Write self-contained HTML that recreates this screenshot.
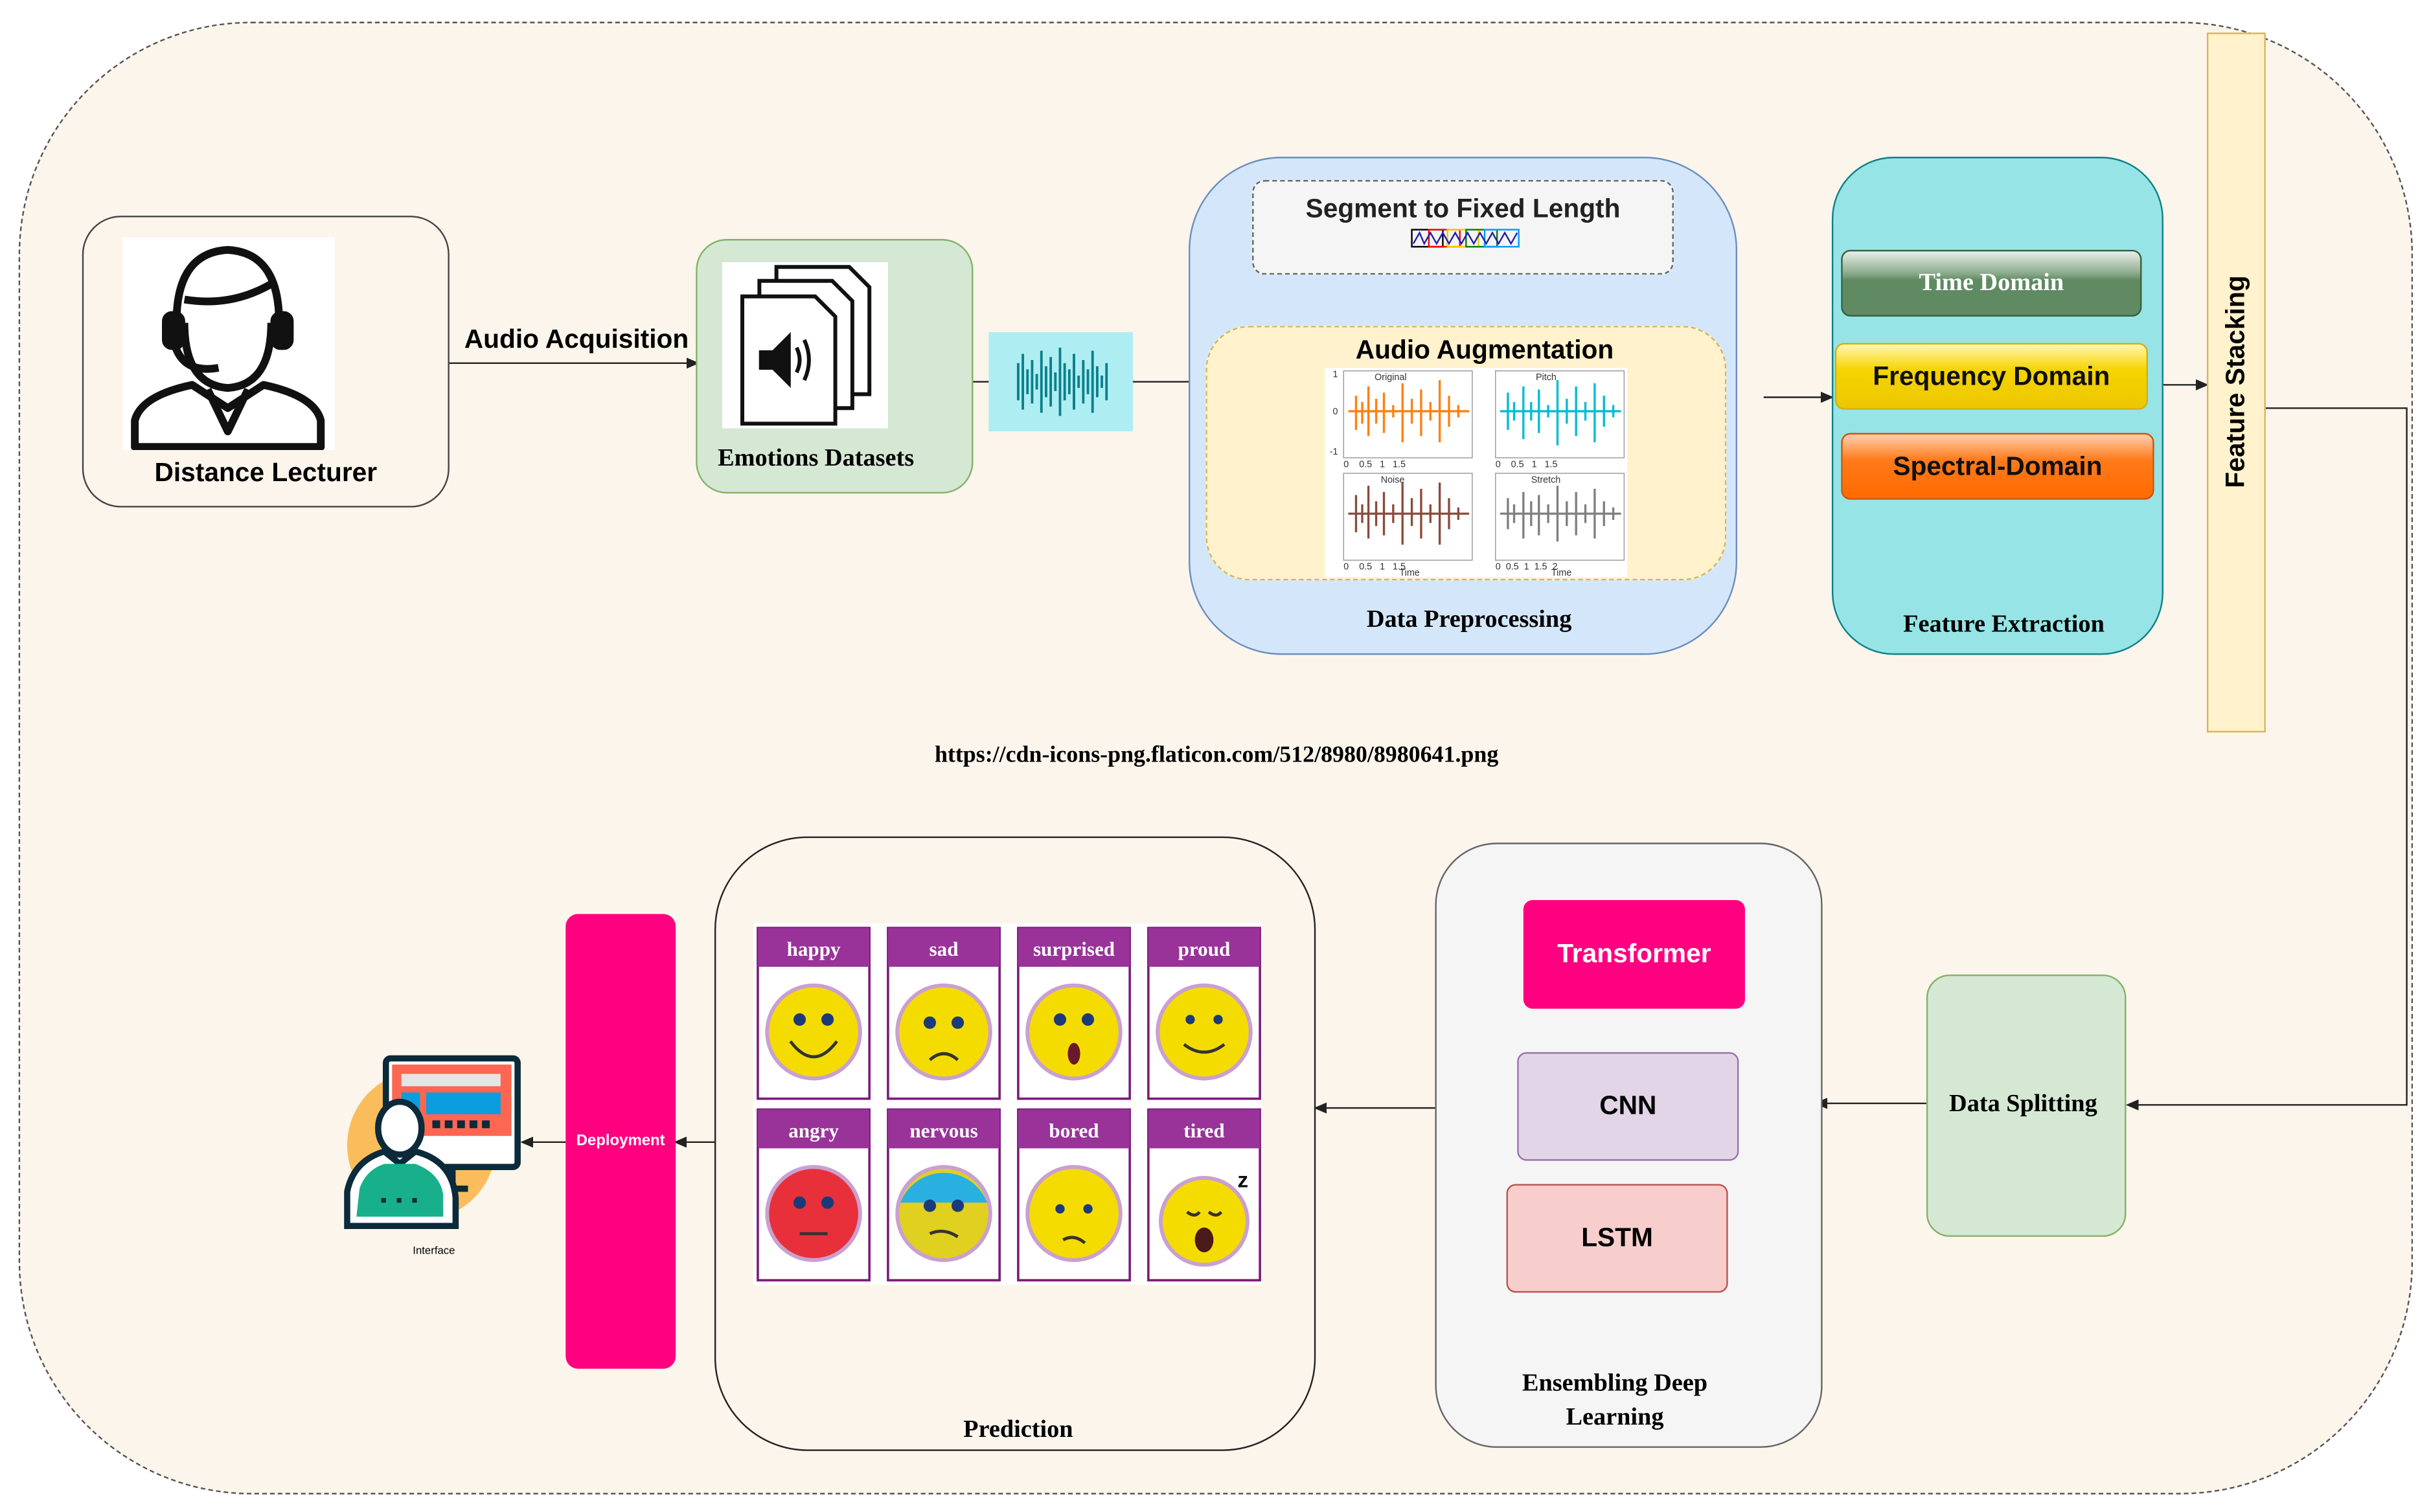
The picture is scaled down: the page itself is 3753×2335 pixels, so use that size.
<!DOCTYPE html>
<html><head><meta charset="utf-8">
<style>
html,body{margin:0;padding:0;width:3753px;height:2335px;overflow:hidden;background:#fff}
#w{position:absolute;left:0;top:0;width:1560px;height:970px;transform:scale(2.3925,2.3965);transform-origin:0 0;font-family:"Liberation Sans",sans-serif}
.a{position:absolute;box-sizing:border-box}
.t{position:absolute;white-space:nowrap;text-align:center}
.serif{font-family:"Liberation Serif",serif;font-weight:bold}
.btn{position:absolute;box-sizing:border-box;border-radius:6px;display:flex;align-items:center;justify-content:center;font-weight:bold}
</style></head><body><div id="w">
<div class="a" style="left:12px;top:14px;width:1545px;height:949px;border:1px dashed #555;border-radius:150px;background:#fcf5ec"></div>

<div class="a" style="left:53px;top:139px;width:237px;height:188px;border:1px solid #444;border-radius:25px"></div>
<div class="a" style="left:79px;top:153px;width:137px;height:137px;background:#fff"></div>
<svg class="a" style="left:79px;top:153px" width="137" height="137" viewBox="0 0 137 137" fill="none" stroke="#111" stroke-width="5" stroke-linejoin="round">
<path d="M35 60 Q33 10 68 8 Q103 10 101 60"/>
<path d="M40 55 Q40 95 68 97 Q96 95 96 55"/>
<path d="M40 40 Q70 45 96 30"/>
<rect x="28" y="50" width="10" height="20" rx="4" fill="#111"/><rect x="98" y="50" width="10" height="20" rx="4" fill="#111"/>
<path d="M34 70 Q40 88 62 84"/>
<path d="M8 135 L8 118 Q12 102 45 95 L68 110 L91 95 Q124 102 128 118 L128 135 Z"/>
<path d="M55 98 L68 125 L81 98"/>
</svg>
<div class="t" style="left:53px;top:295px;width:237px;font-size:17px;font-weight:bold">Distance Lecturer</div>

<svg class="a" style="left:0;top:0" width="1560" height="970" fill="none" stroke="#222" stroke-width="1">
<defs><marker id="m" markerWidth="8" markerHeight="8" refX="7" refY="4" orient="auto"><path d="M0,1 L7,4 L0,7 Z" fill="#222"/></marker></defs>
<line x1="290" y1="234" x2="450" y2="234" marker-end="url(#m)"/>
<line x1="628" y1="246" x2="638" y2="246"/>
<line x1="731" y1="246" x2="778" y2="246"/>
<line x1="958" y1="177" x2="958" y2="208" marker-end="url(#m)"/>
<line x1="1138" y1="256" x2="1182" y2="256" marker-end="url(#m)"/>
<line x1="1396" y1="248" x2="1424" y2="248" marker-end="url(#m)"/>
<polyline points="1462,263 1553,263 1553,712 1373,712" marker-end="url(#m)"/>
<line x1="1243" y1="711" x2="1172" y2="711" marker-end="url(#m)"/>
<line x1="1172" y1="711" x2="1125" y2="711"/>
<polyline points="1126,597 1154,597 1154,825 1122,825"/>
<line x1="926" y1="714" x2="849" y2="714" marker-end="url(#m)"/>
<line x1="461" y1="736" x2="436" y2="736" marker-end="url(#m)"/>
<line x1="365" y1="736" x2="337" y2="736" marker-end="url(#m)"/>
</svg>
<div class="t" style="left:296px;top:209px;width:152px;font-size:17px;font-weight:bold">Audio Acquisition</div>

<div class="a" style="left:449px;top:154px;width:179px;height:164px;border:1px solid #82b366;border-radius:20px;background:#d5e8d4"></div>
<div class="a" style="left:466px;top:169px;width:107px;height:107px;background:#fff"></div>
<svg class="a" style="left:466px;top:169px" width="107" height="107" viewBox="0 0 107 107" fill="#fff" stroke="#111" stroke-width="2.5">
<path d="M35 3 L82 3 L95 16 L95 85 L35 85 Z"/>
<path d="M24 12 L71 12 L84 25 L84 94 L24 94 Z"/>
<path d="M13 22 L60 22 L73 35 L73 104 L13 104 Z"/>
<path d="M25 58 L33 58 L43 48 L43 78 L33 68 L25 68 Z" fill="#111"/>
<path d="M48 55 Q52 63 48 71 M53 50 Q59 63 53 76" fill="none"/>
</svg>
<div class="t serif" style="left:449px;top:287px;width:155px;font-size:16px">Emotions Datasets</div>

<div class="a" style="left:638px;top:214px;width:93px;height:64px;background:#aeeef2"></div>
<svg class="a" style="left:638px;top:214px" width="93" height="64" stroke="#0b7f8c" stroke-width="1.6">
<path d="M16 32v0 M19 20v24 M22 14v36 M25 24v16 M28 18v28 M31 27v10 M34 12v40 M37 22v20 M40 16v32 M43 26v12 M46 10v44 M49 20v24 M52 24v16 M55 14v36 M58 28v8 M61 18v28 M64 24v16 M67 12v40 M70 22v20 M73 28v8 M76 20v24"/>
</svg>

<div class="a" style="left:767px;top:101px;width:354px;height:321px;border:1px solid #6c8ebf;border-radius:60px;background:#d4e7fa"></div>
<div class="a" style="left:808px;top:116px;width:272px;height:61px;border:1px dashed #666;border-radius:8px;background:#f5f5f5"></div>
<div class="t" style="left:808px;top:125px;width:272px;font-size:17px;font-weight:bold;color:#222">Segment to Fixed Length</div>
<svg class="a" style="left:910px;top:147px" width="72" height="14" fill="none" stroke-width="1">
<rect x="1" y="1" width="20" height="11" stroke="#000"/><rect x="12" y="1" width="20" height="11" stroke="red"/><rect x="24" y="1" width="20" height="11" stroke="#ec0"/><rect x="36" y="1" width="20" height="11" stroke="green"/><rect x="48" y="1" width="22" height="11" stroke="#09f"/>
<path d="M2 10 L6 3 L9 10 L13 3 L17 10 L21 3 L25 10 L29 3 L33 10 L37 3 L41 10 L45 3 L49 10 L53 3 L57 10 L61 3 L65 10 L69 3" stroke="#22a"/>
</svg>
<div class="a" style="left:778px;top:210px;width:336px;height:164px;border:1px dashed #d6b656;border-radius:28px;background:#fff2cc"></div>
<div class="t" style="left:778px;top:216px;width:360px;font-size:17px;font-weight:bold">Audio Augmentation</div>
<div class="a" style="left:855px;top:237px;width:195px;height:135px;background:#fff"></div>
<svg class="a" style="left:855px;top:237px" width="195" height="135" font-family="Liberation Sans" font-size="6">
<g fill="none" stroke="#999" stroke-width="0.6"><rect x="12" y="2" width="83" height="56"/><rect x="110" y="2" width="83" height="56"/><rect x="12" y="68" width="83" height="56"/><rect x="110" y="68" width="83" height="56"/></g>
<g stroke-width="1.4">
<path stroke="#ff7f0e" d="M15 28h78 M20 18v22 M24 22v14 M28 12v32 M33 20v16 M38 16v26 M44 24v8 M50 10v38 M56 20v16 M62 14v30 M68 22v12 M74 8v40 M80 18v20 M86 24v8"/>
<path stroke="#00bcd0" d="M113 28h78 M118 16v24 M122 22v12 M128 12v34 M133 22v12 M138 14v28 M144 24v8 M150 8v42 M156 20v16 M162 12v32 M168 22v12 M174 10v38 M180 18v20 M186 24v8"/>
<path stroke="#8c4a3a" d="M15 94h78 M20 82v24 M24 88v12 M28 76v34 M33 86v16 M38 80v28 M44 88v12 M50 74v40 M56 84v18 M62 78v32 M68 88v12 M74 74v40 M80 84v20 M86 90v8"/>
<path stroke="#7f7f7f" d="M113 94h78 M118 84v20 M122 88v12 M128 80v30 M133 86v16 M138 82v26 M144 88v12 M150 76v36 M156 86v16 M162 80v28 M168 88v12 M174 78v32 M180 86v16 M186 90v8"/>
</g>
<g fill="#333"><text x="32" y="8">Original</text><text x="136" y="8">Pitch</text><text x="36" y="74">Noise</text><text x="133" y="74">Stretch</text><text x="48" y="134">Time</text><text x="146" y="134">Time</text>
<text x="5" y="6">1</text><text x="5" y="30">0</text><text x="3" y="56">-1</text><text x="12" y="64">0 &#160;&#160;&#160;0.5 &#160;&#160;1 &#160;&#160;1.5</text><text x="110" y="64">0 &#160;&#160;&#160;0.5 &#160;&#160;1 &#160;&#160;1.5</text><text x="12" y="130">0 &#160;&#160;&#160;0.5 &#160;&#160;1 &#160;&#160;1.5</text><text x="110" y="130">0 &#160;0.5 &#160;1 &#160;1.5 &#160;2</text></g>
</svg>
<div class="t serif" style="left:767px;top:391px;width:362px;font-size:16px">Data Preprocessing</div>

<div class="a" style="left:1182px;top:101px;width:214px;height:321px;border:1px solid #0e8088;border-radius:40px;background:#96e4e6"></div>
<div class="btn serif" style="left:1188px;top:161px;width:194px;height:43px;border:1px solid #3a5e3c;background:linear-gradient(#e8efe8 0%,#8aa98b 35%,#5f8a62 45%,#5f8a62 100%);color:#fff;font-size:16px">Time Domain</div>
<div class="btn" style="left:1184px;top:221px;width:202px;height:43px;border:1px solid #d6b000;background:linear-gradient(#fff6b0 0%,#f5d400 40%,#ecc700 100%);color:#111;font-size:17px">Frequency Domain</div>
<div class="btn" style="left:1188px;top:279px;width:202px;height:43px;border:1px solid #d45000;background:linear-gradient(#ffd0b0 0%,#ff7a1a 40%,#ff6a00 100%);color:#111;font-size:17px">Spectral-Domain</div>
<div class="t serif" style="left:1182px;top:394px;width:222px;font-size:16px">Feature Extraction</div>

<div class="a" style="left:1424px;top:21px;width:38px;height:451px;border:1px solid #d6b656;background:#fff2cc"></div>
<div class="t" style="left:1343px;top:236px;width:200px;font-size:17px;font-weight:bold;transform:rotate(-90deg)">Feature Stacking</div>

<div class="t serif" style="left:485px;top:479px;width:600px;font-size:15px">https://cdn-icons-png.flaticon.com/512/8980/8980641.png</div>

<div class="a" style="left:1243px;top:628px;width:129px;height:169px;border:1px solid #82b366;border-radius:15px;background:#d5e8d4"></div>
<div class="t serif" style="left:1243px;top:703px;width:125px;font-size:16px">Data Splitting</div>

<div class="a" style="left:926px;top:543px;width:250px;height:390px;border:1px solid #666;border-radius:40px;background:#f5f5f5"></div>
<div class="btn" style="left:983px;top:580px;width:143px;height:70px;background:#ff0080;color:#fff;font-size:17px">Transformer</div>
<div class="btn" style="left:979px;top:678px;width:143px;height:70px;background:#e1d5e7;border:1px solid #9673a6;font-size:17px">CNN</div>
<div class="btn" style="left:972px;top:763px;width:143px;height:70px;background:#f8cecc;border:1px solid #b85450;font-size:17px">LSTM</div>
<div class="t serif" style="left:926px;top:881px;width:232px;font-size:16px;line-height:22px">Ensembling Deep<br>Learning</div>

<div class="a" style="left:461px;top:539px;width:388px;height:396px;border:1px solid #222;border-radius:60px;background:#fcf5ec"></div>
<div class="a" style="left:486px;top:595px;width:328px;height:233px;background:#fff"></div>
<svg class="a" style="left:486px;top:595px" width="328" height="233" font-family="Liberation Serif" font-weight="bold" font-size="13" text-anchor="middle">
<g stroke="#7a1a7a" stroke-width="1.5">
<rect x="3" y="3" width="72" height="110" fill="#fff"/><rect x="87" y="3" width="72" height="110" fill="#fff"/><rect x="171" y="3" width="72" height="110" fill="#fff"/><rect x="255" y="3" width="72" height="110" fill="#fff"/>
<rect x="3" y="120" width="72" height="110" fill="#fff"/><rect x="87" y="120" width="72" height="110" fill="#fff"/><rect x="171" y="120" width="72" height="110" fill="#fff"/><rect x="255" y="120" width="72" height="110" fill="#fff"/>
</g>
<g fill="#993399"><rect x="3" y="3" width="72" height="25"/><rect x="87" y="3" width="72" height="25"/><rect x="171" y="3" width="72" height="25"/><rect x="255" y="3" width="72" height="25"/><rect x="3" y="120" width="72" height="25"/><rect x="87" y="120" width="72" height="25"/><rect x="171" y="120" width="72" height="25"/><rect x="255" y="120" width="72" height="25"/></g>
<g fill="#fff"><text x="39" y="21">happy</text><text x="123" y="21">sad</text><text x="207" y="21">surprised</text><text x="291" y="21">proud</text><text x="39" y="138">angry</text><text x="123" y="138">nervous</text><text x="207" y="138">bored</text><text x="291" y="138">tired</text></g>
<g stroke="#c9a0d0" stroke-width="2.5"><circle cx="39" cy="70" r="30" fill="#f5dc00"/><circle cx="123" cy="70" r="30" fill="#f5dc00"/><circle cx="207" cy="70" r="30" fill="#f5dc00"/><circle cx="291" cy="70" r="30" fill="#f5dc00"/>
<circle cx="39" cy="187" r="30" fill="#e8303a"/><circle cx="123" cy="187" r="30" fill="#e0d020"/><circle cx="207" cy="187" r="30" fill="#f5dc00"/><circle cx="291" cy="192" r="28" fill="#f5dc00"/></g>
<path d="M95 180 A30 30 0 0 1 151 180 Z" fill="#2ab0e0"/>
<g fill="#1a3a7a"><circle cx="30" cy="62" r="4"/><circle cx="48" cy="62" r="4"/><circle cx="114" cy="64" r="4"/><circle cx="132" cy="64" r="4"/><circle cx="198" cy="62" r="4"/><circle cx="216" cy="62" r="4"/><circle cx="282" cy="62" r="3"/><circle cx="300" cy="62" r="3"/><circle cx="30" cy="180" r="4"/><circle cx="48" cy="180" r="4"/><circle cx="114" cy="182" r="4"/><circle cx="132" cy="182" r="4"/><circle cx="198" cy="184" r="3"/><circle cx="216" cy="184" r="3"/></g>
<g fill="none" stroke="#333" stroke-width="2"><path d="M24 76 Q39 96 54 76"/><path d="M114 88 Q123 80 132 88"/><path d="M278 78 Q291 88 304 78"/><path d="M30 200h18"/><path d="M114 200 Q123 196 132 202"/><path d="M200 204 Q207 200 214 206"/><path d="M280 186 Q285 190 288 186 M294 186 Q299 190 302 186"/></g>
<ellipse cx="207" cy="84" rx="4" ry="7" fill="#6a1a2a"/><ellipse cx="291" cy="204" rx="6" ry="8" fill="#4a1a1a"/>
<text x="316" y="170" font-family="Liberation Sans" font-size="14" fill="#111">z</text>
</svg>
<div class="t serif" style="left:461px;top:913px;width:392px;font-size:16px">Prediction</div>

<div class="a" style="left:365px;top:589px;width:71px;height:293px;border-radius:8px;background:#ff0080"></div>
<div class="t" style="left:365px;top:730px;width:71px;font-size:10px;font-weight:bold;color:#fff">Deployment</div>

<svg class="a" style="left:222px;top:680px" width="116" height="114" viewBox="0 0 116 114">
<circle cx="50" cy="58" r="48" fill="#fbbd5c"/>
<rect x="27" y="2" width="85" height="70" rx="3" fill="#fff" stroke="#0b2a3a" stroke-width="4"/>
<rect x="31" y="6" width="77" height="46" fill="#fd6651"/>
<rect x="37" y="12" width="64" height="8" fill="#e5e5e5"/><rect x="37" y="24" width="12" height="14" fill="#0a9ee0"/><rect x="53" y="24" width="48" height="14" fill="#0a9ee0"/>
<g fill="#0b2a3a"><rect x="57" y="42" width="5" height="5"/><rect x="65" y="42" width="5" height="5"/><rect x="73" y="42" width="5" height="5"/><rect x="81" y="42" width="5" height="5"/><rect x="89" y="42" width="5" height="5"/></g>
<rect x="64" y="72" width="8" height="12" fill="#0b2a3a"/><rect x="56" y="84" width="24" height="4" fill="#0b2a3a"/>
<path d="M2 110 L2 88 Q6 68 26 62 L36 70 L46 62 Q70 68 72 92 L72 110 Z" fill="#fff" stroke="#0b2a3a" stroke-width="4"/>
<path d="M8 104 L10 86 Q14 74 26 70 L46 70 Q62 76 64 90 L64 104 Z" fill="#17b08a"/>
<g fill="#0b2a3a"><rect x="24" y="92" width="3" height="3"/><rect x="34" y="92" width="3" height="3"/><rect x="44" y="92" width="3" height="3"/></g>
<ellipse cx="36" cy="47" rx="14" ry="17" fill="#fff" stroke="#0b2a3a" stroke-width="4"/>
</svg>
<div class="t" style="left:240px;top:803px;width:80px;font-size:7px">Interface</div>
</div></body></html>
